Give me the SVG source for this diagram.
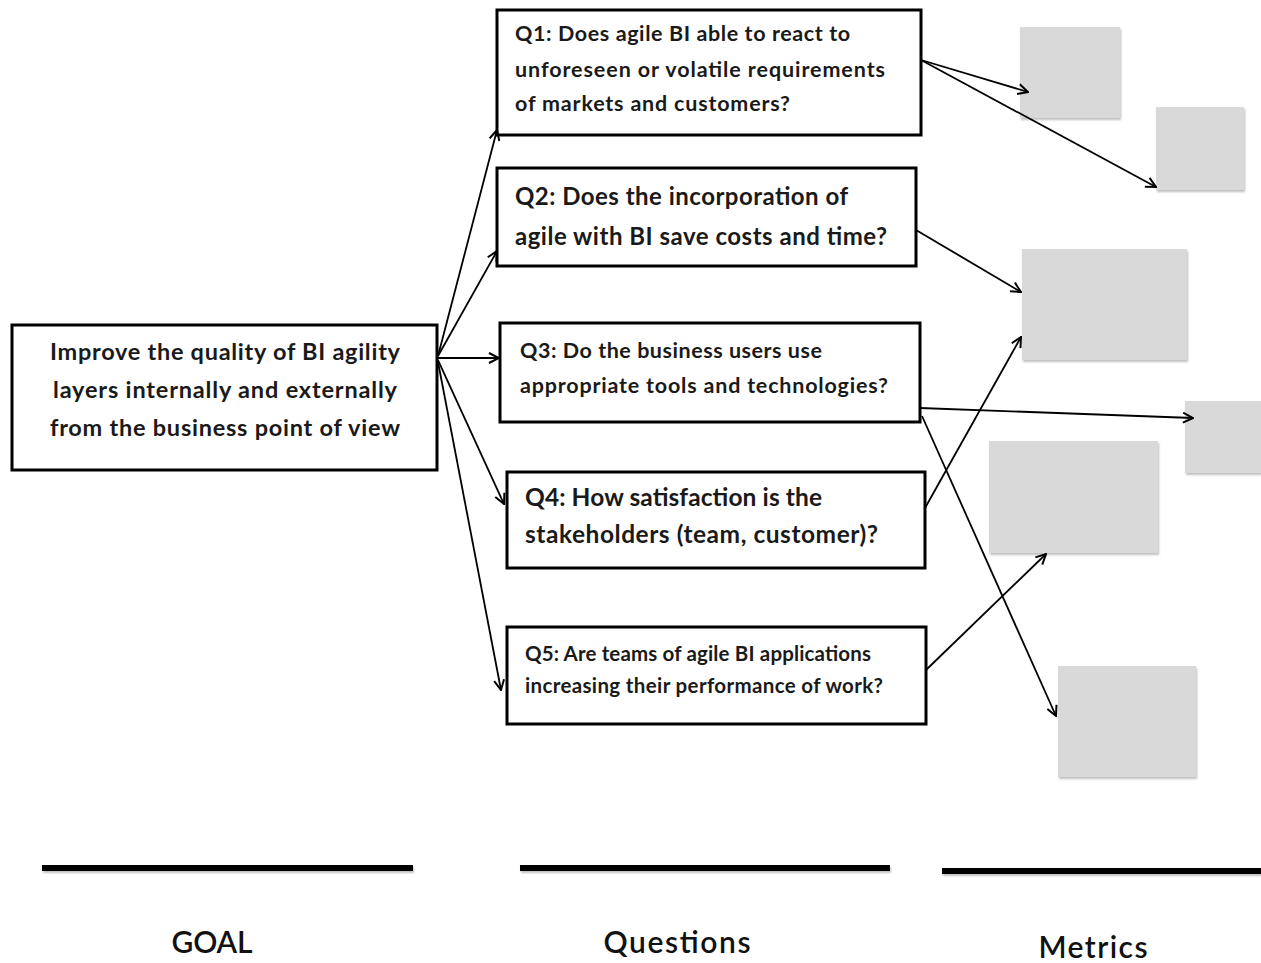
<svg xmlns="http://www.w3.org/2000/svg" width="1261" height="963" viewBox="0 0 1261 963">
<defs>
<marker id="arr" viewBox="0 0 12 12" refX="11" refY="6" markerWidth="12" markerHeight="12" markerUnits="userSpaceOnUse" orient="auto">
<path d="M1,1 L11,6 L1,11" fill="none" stroke="#000" stroke-width="2"/>
</marker>
<filter id="sh" x="-10%" y="-20%" width="125%" height="160%">
<feDropShadow dx="1" dy="2" stdDeviation="1.2" flood-color="#000" flood-opacity="0.25"/>
</filter>
</defs>
<style>
.box{fill:#fff;stroke:#000;stroke-width:3}
.metric{fill:#d9d9d9;filter:url(#sh)}
.t{font-family:Lato,"Open Sans","Liberation Sans",sans-serif;font-weight:bold;fill:#1a1a1a}
.conn line{stroke:#000;stroke-width:1.8;marker-end:url(#arr)}
.bar{fill:#000;filter:url(#sh)}
.lbl{font-family:Lato,"Open Sans","Liberation Sans",sans-serif;font-size:30px;font-weight:600;text-anchor:middle;fill:#111}
</style>
<rect width="1261" height="963" fill="#fff"/>

<g id="goal">
<rect class="box" x="12" y="325" width="425" height="145"/>
<text class="t" font-size="23.5"><tspan x="50" y="360" textLength="350">Improve the quality of BI agility</tspan><tspan x="53" y="398" textLength="344">layers internally and externally</tspan><tspan x="50" y="436" textLength="350">from the business point of view</tspan></text>
</g>

<g id="q1">
<rect class="box" x="497" y="10" width="424" height="125"/>
<text class="t" font-size="21.5"><tspan x="515" y="41" textLength="335">Q1: Does agile BI able to react to</tspan><tspan x="515" y="77" textLength="370">unforeseen or volatile requirements</tspan><tspan x="515" y="111" textLength="275">of markets and customers?</tspan></text>
</g>
<g id="q2">
<rect class="box" x="497" y="168" width="419" height="98"/>
<text class="t" font-size="24"><tspan x="515" y="205" textLength="333">Q2: Does the incorporation of</tspan><tspan x="515" y="245" textLength="372">agile with BI save costs and time?</tspan></text>
</g>
<g id="q3">
<rect class="box" x="500" y="323" width="420" height="99"/>
<text class="t" font-size="21.5"><tspan x="520" y="358" textLength="302">Q3: Do the business users use</tspan><tspan x="520" y="393" textLength="368">appropriate tools and technologies?</tspan></text>
</g>
<g id="q4">
<rect class="box" x="507" y="472" width="418" height="96"/>
<text class="t" font-size="24.5"><tspan x="525" y="506" textLength="297">Q4: How satisfaction is the</tspan><tspan x="525" y="543" textLength="353">stakeholders (team, customer)?</tspan></text>
</g>
<g id="q5">
<rect class="box" x="507" y="627" width="419" height="97"/>
<text class="t" font-size="20.5"><tspan x="525" y="661" textLength="346">Q5: Are teams of agile BI applications</tspan><tspan x="525" y="693" textLength="358">increasing their performance of work?</tspan></text>
</g>

<g id="m1"><rect class="metric" x="1020" y="27" width="100" height="91"/></g>
<g id="m2"><rect class="metric" x="1156" y="107" width="88" height="83"/></g>
<g id="m3"><rect class="metric" x="1022" y="249" width="165" height="111"/></g>
<g id="m4"><rect class="metric" x="1185" y="401" width="76" height="72"/></g>
<g id="m5"><rect class="metric" x="989" y="441" width="169" height="112"/></g>
<g id="m6"><rect class="metric" x="1058" y="666" width="138" height="111"/></g>

<g id="connectors" class="conn">
<line x1="438" y1="356" x2="497" y2="130"/>
<line x1="438" y1="356" x2="497" y2="251"/>
<line x1="438" y1="358" x2="499" y2="358"/>
<line x1="438" y1="360" x2="504" y2="504"/>
<line x1="438" y1="362" x2="501" y2="690"/>
<line x1="921" y1="60" x2="1028" y2="92"/>
<line x1="921" y1="60" x2="1156" y2="187"/>
<line x1="916" y1="230" x2="1021" y2="292"/>
<line x1="920" y1="408" x2="1193" y2="418"/>
<line x1="922" y1="416" x2="1056" y2="716"/>
<line x1="925" y1="508" x2="1021" y2="337"/>
<line x1="926" y1="670" x2="1046" y2="554"/>
</g>

<g id="bars">
<rect class="bar" x="42" y="865" width="371" height="6"/>
<rect class="bar" x="520" y="865" width="370" height="6"/>
<rect class="bar" x="942" y="868" width="319" height="6"/>
</g>
<g id="labels">
<text class="lbl" x="212" y="953" textLength="81">GOAL</text>
<text class="lbl" x="677" y="953" textLength="147">Questions</text>
<text class="lbl" x="1093" y="958" textLength="109">Metrics</text>
</g>
</svg>
